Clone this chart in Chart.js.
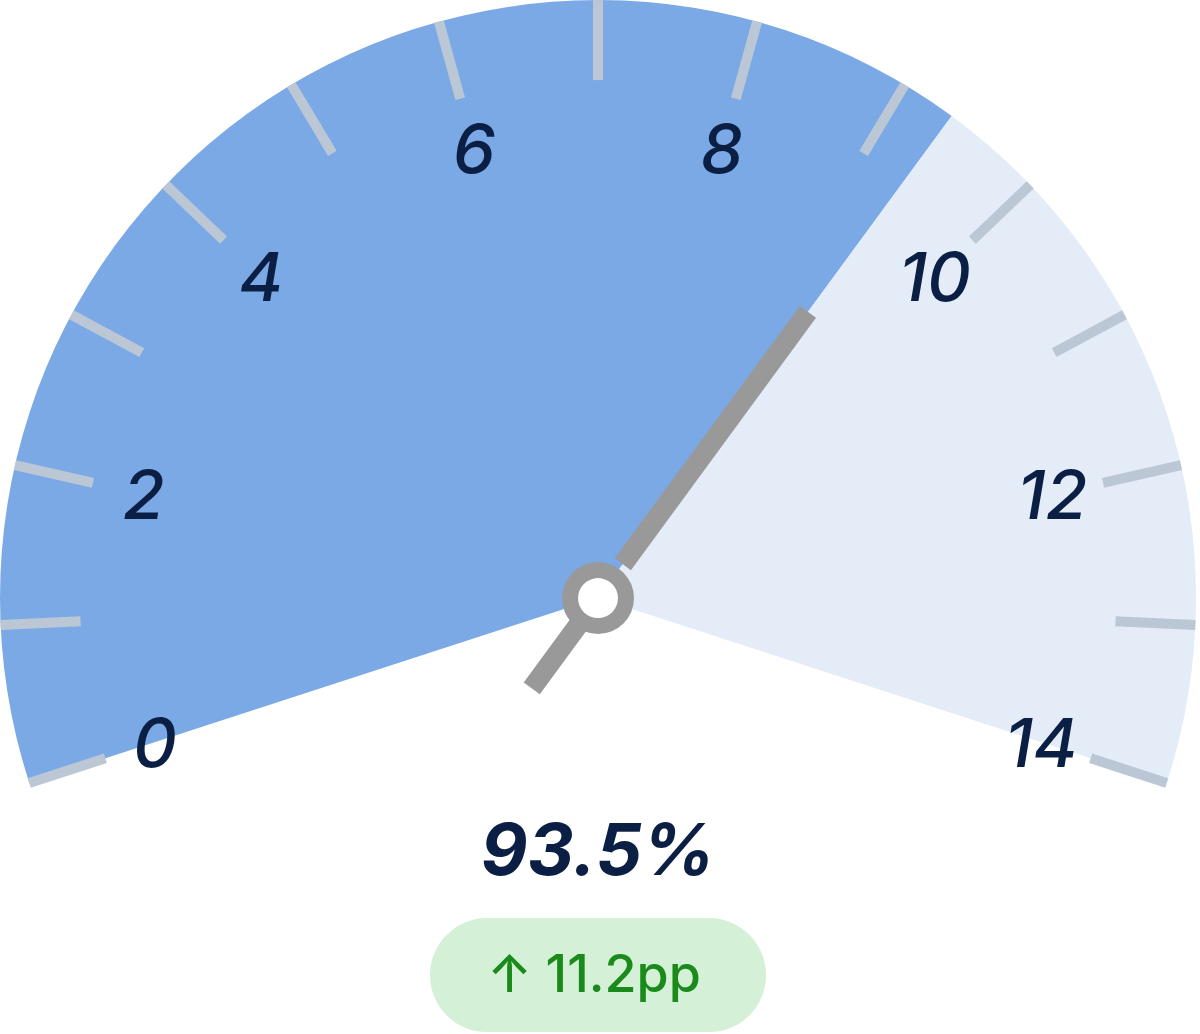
<!DOCTYPE html>
<html>
<head>
<meta charset="utf-8">
<script src="https://cdn.jsdelivr.net/npm/chart.js@4"></script>
<style>
  html, body { margin: 0; padding: 0; background: #fff; }
  #wrap { width: 1200px; height: 1034px; position: relative; }
</style>
</head>
<body>
<div id="wrap"><canvas id="gauge"></canvas></div>
<script>
// gauge data
const gaugeMin = 0;
const gaugeMax = 14;
const gaugeValue = 9.35;
const tickValues = [0, 1, 2, 3, 4, 5, 6, 7, 8, 9, 10, 11, 12, 13, 14];
const tickLabels = ['0', '2', '4', '6', '8', '10', '12', '14'];
const labelValues = [0, 2, 4, 6, 8, 10, 12, 14];
const headline = '93.5%';
const changeText = '↑ 11.2pp';

const ROT = -108, CIRC = 216;

// value -> canvas angle, same mapping the doughnut uses
function angleOf(v) {
  return (ROT - 90 + (v - gaugeMin) / (gaugeMax - gaugeMin) * CIRC) * Math.PI / 180;
}

const gaugeDecor = {
  id: 'gaugeDecor',
  afterDatasetsDraw(chart) {
    const arc = chart.getDatasetMeta(0).data[0];
    const cx = arc.x, cy = arc.y, R = arc.outerRadius;
    const ctx = chart.ctx;
    ctx.save();

    // ticks
    ctx.strokeStyle = '#BCC7D6';
    ctx.lineWidth = 10;
    ctx.lineCap = 'butt';
    tickValues.forEach(v => {
      const a = angleOf(v);
      ctx.beginPath();
      ctx.moveTo(cx + Math.cos(a) * (R - 80), cy + Math.sin(a) * (R - 80));
      ctx.lineTo(cx + Math.cos(a) * R, cy + Math.sin(a) * R);
      ctx.stroke();
    });

    // tick labels
    ctx.fillStyle = '#0B1F44';
    ctx.font = 'italic 500 68px Inter';
    ctx.textAlign = 'center';
    ctx.textBaseline = 'middle';
    labelValues.forEach((v, i) => {
      const a = angleOf(v);
      ctx.fillText(tickLabels[i], cx + Math.cos(a) * (R - 132), cy + Math.sin(a) * (R - 132) + 4);
    });

    // needle
    const na = angleOf(gaugeValue);
    ctx.strokeStyle = '#999999';
    ctx.lineWidth = 20;
    ctx.beginPath();
    ctx.moveTo(cx + Math.cos(na) * 42, cy + Math.sin(na) * 42);
    ctx.lineTo(cx + Math.cos(na) * 355, cy + Math.sin(na) * 355);
    ctx.stroke();
    ctx.beginPath();
    ctx.moveTo(cx, cy);
    ctx.lineTo(cx - Math.cos(na) * 112, cy - Math.sin(na) * 112);
    ctx.stroke();

    // hub
    ctx.fillStyle = '#999999';
    ctx.beginPath();
    ctx.arc(cx, cy, 36, 0, Math.PI * 2);
    ctx.fill();
    ctx.fillStyle = '#ffffff';
    ctx.beginPath();
    ctx.arc(cx, cy, 20, 0, Math.PI * 2);
    ctx.fill();

    // headline value
    ctx.fillStyle = '#0B1F44';
    ctx.font = 'italic 700 72px Inter';
    ctx.fillText(headline, cx, cy + 255);

    // change badge
    const bw = 336, bh = 114, by = cy + 320;
    ctx.fillStyle = '#D4F0D6';
    ctx.beginPath();
    ctx.roundRect(cx - bw / 2, by, bw, bh, bh / 2);
    ctx.fill();
    ctx.fillStyle = '#1A8A1A';
    ctx.font = '500 52px Inter';
    ctx.fillText(changeText, cx - 4, by + bh / 2 + 1);

    ctx.restore();
  }
};

new Chart(document.getElementById('gauge'), {
  type: 'doughnut',
  data: {
    labels: ['value', 'rest'],
    datasets: [{
      data: [gaugeValue - gaugeMin, gaugeMax - gaugeValue],
      backgroundColor: ['#7BA9E6', '#E4ECF8'],
      borderWidth: 0,
      hoverOffset: 0
    }]
  },
  options: {
    responsive: true,
    maintainAspectRatio: false,
    animation: false,
    events: [],
    rotation: ROT,
    circumference: CIRC,
    cutout: 0,
    layout: { padding: { left: 0, right: 4, top: 0, bottom: 251 } },
    plugins: {
      legend: { display: false },
      tooltip: { enabled: false }
    }
  },
  plugins: [gaugeDecor]
});
</script>
</body>
</html>
